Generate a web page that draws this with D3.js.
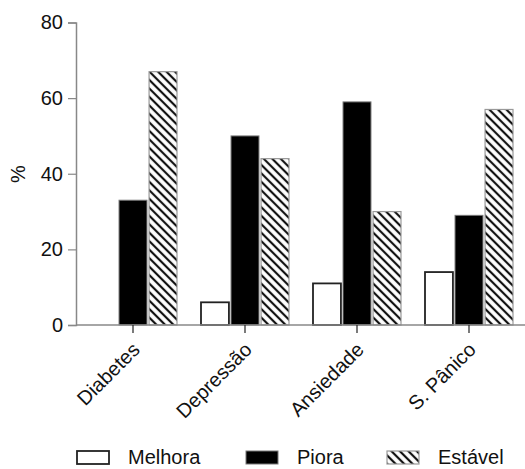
<!DOCTYPE html>
<html>
<head>
<meta charset="utf-8">
<script src="https://cdn.jsdelivr.net/npm/d3@7"></script>
<style>
  html, body { margin: 0; padding: 0; background: #fff; }
  svg { display: block; font-family: "Liberation Sans", Arial, Helvetica, sans-serif; }
</style>
</head>
<body>
<svg id="chart" width="525" height="469"></svg>
<script>
// Conditions on the x axis
const categories = ["Diabetes", "Depressão", "Ansiedade", "S. Pânico"];
// Series (legend order)
const seriesNames = ["Melhora", "Piora", "Estável"];
// Percent of patients per condition, one array per series
const melhora = [0, 6, 11, 14];
const piora   = [33, 50, 59, 29];
const estavel = [67, 44, 30, 57];
const yTicks = [0, 20, 40, 60, 80];

const seriesValues = [melhora, piora, estavel];

const svg = d3.select("#chart");
const plotLeft = 77, plotRight = 525, plotTop = 22.5, plotBottom = 325;

const x0 = d3.scaleBand().domain(categories).range([plotLeft, plotRight]).padding(0);
const x1 = d3.scaleBand().domain(seriesNames).range([-44, 44]).paddingInner(0.07).paddingOuter(0);
const y = d3.scaleLinear().domain([0, 80]).range([plotBottom, plotTop]);

// Diagonal hatch for "Estável" (lines running top-left to bottom-right)
const defs = svg.append("defs");
const pat = defs.append("pattern")
  .attr("id", "hatch")
  .attr("patternUnits", "userSpaceOnUse")
  .attr("width", 6).attr("height", 6)
  .attr("patternTransform", "rotate(45)");
pat.append("rect").attr("width", 6).attr("height", 6).attr("fill", "#fff");
pat.append("line")
  .attr("x1", 0).attr("y1", 3).attr("x2", 6).attr("y2", 3)
  .attr("stroke", "#111").attr("stroke-width", 2.2);

const styles = {
  "Melhora": { fill: "#fff", stroke: "#222", sw: 1.8 },
  "Piora":   { fill: "#000", stroke: "#777", sw: 1 },
  "Estável": { fill: "url(#hatch)", stroke: "#999", sw: 1.2 }
};

// Bars (zero values are not drawn)
const groups = svg.append("g").selectAll("g")
  .data(categories)
  .join("g")
  .attr("transform", d => `translate(${x0(d) + x0.bandwidth() / 2},0)`);

groups.selectAll("rect")
  .data((c, i) => seriesNames.map((s, k) => ({ s, v: seriesValues[k][i] })).filter(d => d.v > 0))
  .join("rect")
  .attr("x", d => x1(d.s))
  .attr("width", x1.bandwidth())
  .attr("y", d => y(d.v))
  .attr("height", d => y(0) - y(d.v))
  .attr("fill", d => styles[d.s].fill)
  .attr("stroke", d => styles[d.s].stroke)
  .attr("stroke-width", d => styles[d.s].sw);

// Y axis
const yAxis = svg.append("g")
  .attr("transform", `translate(${plotLeft - 1},0)`)
  .call(d3.axisLeft(y).tickValues(yTicks).tickSize(8).tickPadding(5));
yAxis.select(".domain").attr("stroke", "#888").attr("stroke-width", 1.5);
yAxis.selectAll(".tick line").attr("stroke", "#888").attr("stroke-width", 1.2);
yAxis.selectAll(".tick text").attr("font-size", 20).attr("fill", "#111")
  .attr("font-family", "'Liberation Sans', Arial, sans-serif");

// X axis
const xAxis = svg.append("g")
  .attr("transform", `translate(0,${plotBottom})`)
  .call(d3.axisBottom(x0).tickSize(8).tickSizeOuter(0).tickFormat(""));
xAxis.select(".domain").attr("stroke", "#888").attr("stroke-width", 1.5)
  .attr("d", `M${plotLeft - 1},0H${plotRight}`);
xAxis.selectAll(".tick line").attr("stroke", "#222").attr("stroke-width", 1.2);

// Rotated category labels
svg.append("g").selectAll("text")
  .data(categories)
  .join("text")
  .attr("transform", d => `translate(${x0(d) + x0.bandwidth() / 2 + 8},${plotBottom + 26}) rotate(-45)`)
  .attr("text-anchor", "end")
  .attr("font-size", 20)
  .attr("fill", "#111")
  .text(d => d);

// Y label
svg.append("text")
  .attr("transform", `translate(25,174) rotate(-90)`)
  .attr("text-anchor", "middle")
  .attr("font-size", 20)
  .attr("fill", "#111")
  .text("%");

// Legend
const legendX = [77, 246, 387];
const legend = svg.append("g").selectAll("g")
  .data(seriesNames)
  .join("g")
  .attr("transform", (d, i) => `translate(${legendX[i]},451)`);
legend.append("rect")
  .attr("width", 32).attr("height", 13)
  .attr("fill", d => styles[d].fill)
  .attr("stroke", d => styles[d].stroke)
  .attr("stroke-width", d => styles[d].sw);
legend.append("text")
  .attr("x", 51).attr("y", 13)
  .attr("font-size", 20)
  .attr("fill", "#111")
  .text(d => d);
</script>
</body>
</html>
